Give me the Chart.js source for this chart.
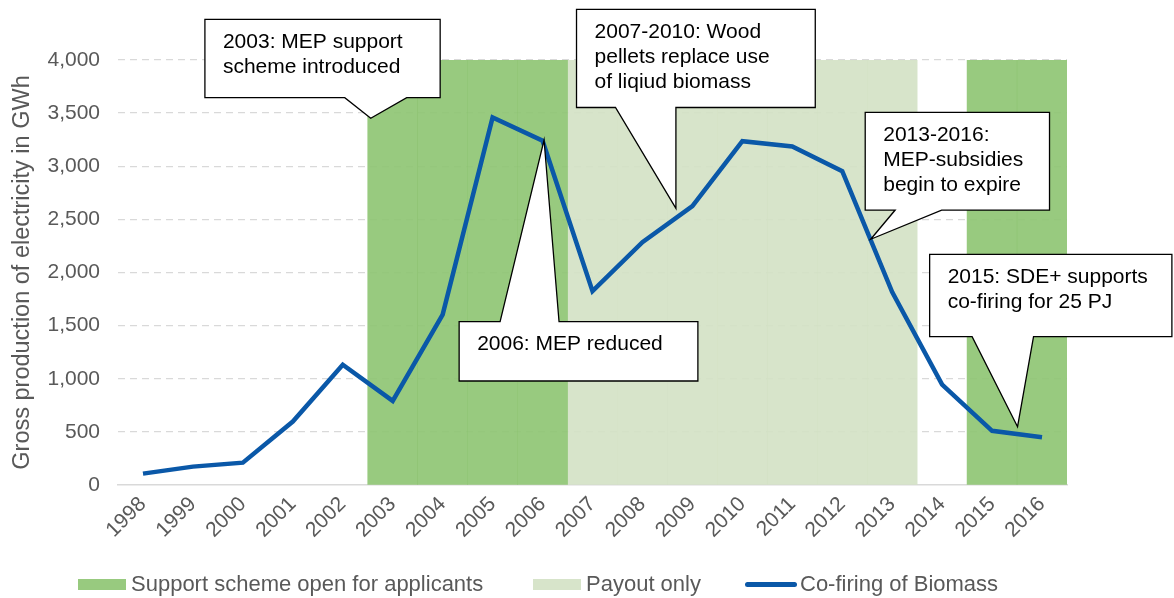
<!DOCTYPE html>
<html lang="en">
<head>
<meta charset="UTF-8">
<title>Co-firing of biomass</title>
<script src="https://cdn.jsdelivr.net/npm/chart.js"></script>
<style>
    body { margin: 0; background: #fff; font-family: 'Liberation Sans', Arial, sans-serif; }
    .wrap { position: relative; width: 1174px; height: 598px; }
    .legend { position: absolute; top: 570px; left: 0; width: 1174px; height: 28px; color: #595959; font-size: 22px; }
    .legend span { position: absolute; }
    .sw { height: 11px; top: 9px; }
    .ln { height: 5px; top: 12px; border-radius: 3px; }
    .lt { top: 0; line-height: 28px; white-space: nowrap; }
</style>
</head>
<body>
<div class="wrap">
    <canvas id="chart" width="1174" height="598"></canvas>
    <div class="legend">
        <span class="sw" style="left:78px; width:48px; background:#98CA7F;"></span>
        <span class="lt" style="left:131px;">Support scheme open for applicants</span>
        <span class="sw" style="left:533px; width:48px; background:#D7E4CA;"></span>
        <span class="lt" style="left:586px;">Payout only</span>
        <span class="ln" style="left:745px; width:52px; background:#0A58A8;"></span>
        <span class="lt" style="left:800px;">Co-firing of Biomass</span>
    </div>
</div>
<script>
    const years = ['1998', '1999', '2000', '2001', '2002', '2003', '2004', '2005', '2006', '2007',
                   '2008', '2009', '2010', '2011', '2012', '2013', '2014', '2015', '2016'];
    const cofiring = [107, 173, 210, 597, 1132, 792, 1604, 3460, 3240, 1825,
                      2285, 2625, 3236, 3186, 2953, 1815, 945, 510, 450];
    const supportOpen = [null, null, null, null, null, 4000, 4000, 4000, 4000, null,
                         null, null, null, null, null, null, null, 4000, 4000];
    const payoutOnly = [null, null, null, null, null, null, null, null, null, 4000,
                        4000, 4000, 4000, 4000, 4000, 4000, null, null, null];
    const yMin = 0, yMax = 4000, yStep = 500;

    // callouts: box and pointer in data space (x = category index, y = GWh)
    const callouts = [
        { lines: ['2003: MEP support', 'scheme introduced'], box: [1.24, 4383, 5.95, 3645], side: 'bottom', base: [4.04, 5.28], tip: [4.56, 3451] },
        { lines: ['2007-2010: Wood', 'pellets replace use', 'of liqiud biomass'], box: [8.68, 4477, 13.46, 3553], side: 'bottom', base: [9.46, 10.67], tip: [10.67, 2604] },
        { lines: ['2006: MEP reduced'], box: [6.33, 1537, 11.11, 979], side: 'top', base: [7.15, 8.33], tip: [8.03, 3247] },
        { lines: ['2013-2016:', 'MEP-subsidies', 'begin to expire'], box: [14.46, 3508, 18.15, 2588], side: 'bottom', base: [15.06, 15.99], tip: [14.57, 2313] },
        { lines: ['2015: SDE+ supports', 'co-firing for 25 PJ'], box: [15.75, 2171, 20.6, 1396], side: 'bottom', base: [16.6, 17.83], tip: [17.51, 549] }
    ];

    const calloutPlugin = {
        id: 'callouts',
        afterDatasetsDraw(chart) {
            const { ctx, scales: { x, y } } = chart;
            ctx.save();
            ctx.lineWidth = 1.3;
            ctx.strokeStyle = '#000';
            ctx.fillStyle = '#fff';
            callouts.forEach(c => {
                const x0 = x.getPixelForValue(c.box[0]), y0 = y.getPixelForValue(c.box[1]);
                const x1 = x.getPixelForValue(c.box[2]), y1 = y.getPixelForValue(c.box[3]);
                const b0 = x.getPixelForValue(c.base[0]), b1 = x.getPixelForValue(c.base[1]);
                const tx = x.getPixelForValue(c.tip[0]), ty = y.getPixelForValue(c.tip[1]);
                ctx.beginPath();
                ctx.moveTo(x0, y0);
                if (c.side === 'top') {
                    ctx.lineTo(b0, y0); ctx.lineTo(tx, ty); ctx.lineTo(b1, y0);
                }
                ctx.lineTo(x1, y0);
                ctx.lineTo(x1, y1);
                if (c.side === 'bottom') {
                    ctx.lineTo(b1, y1); ctx.lineTo(tx, ty); ctx.lineTo(b0, y1);
                }
                ctx.lineTo(x0, y1);
                ctx.closePath();
                ctx.fill();
                ctx.stroke();

                ctx.fillStyle = '#000';
                ctx.font = '21px "Liberation Sans", Arial, sans-serif';
                ctx.textBaseline = 'middle';
                c.lines.forEach((t, i) => ctx.fillText(t, x0 + 18, y0 + 23 + i * 25));
                ctx.fillStyle = '#fff';
            });
            ctx.restore();
        }
    };

    new Chart(document.getElementById('chart'), {
        data: {
            labels: years,
            datasets: [
                { type: 'line', label: 'Co-firing of Biomass', data: cofiring, borderColor: '#0A58A8', borderWidth: 4.5,
                  pointRadius: 0, tension: 0, order: 0, borderJoinStyle: 'miter' },
                { type: 'bar', label: 'Support scheme open for applicants', data: supportOpen, backgroundColor: 'rgba(141,196,113,0.9)',
                  barPercentage: 1, categoryPercentage: 1, grouped: false, order: 1 },
                { type: 'bar', label: 'Payout only', data: payoutOnly, backgroundColor: 'rgba(211,225,196,0.9)',
                  barPercentage: 1, categoryPercentage: 1, grouped: false, order: 1 }
            ]
        },
        options: {
            responsive: false,
            animation: false,
            layout: { padding: { top: 60, right: 107, bottom: 0, left: 8 } },
            plugins: { legend: { display: false }, tooltip: { enabled: false } },
            scales: {
                x: {
                    offset: true,
                    grid: { display: false, drawTicks: false },
                    border: { display: true, color: '#D9D9D9', width: 1.5 },
                    ticks: { color: '#595959', font: { family: 'Liberation Sans', size: 21 }, maxRotation: 45, minRotation: 45, padding: 7 },
                    afterFit(s) { s.height = 113; }
                },
                y: {
                    min: yMin, max: yMax,
                    grid: { color: c => c.tick.value === 0 ? 'rgba(0,0,0,0)' : '#D9D9D9', lineWidth: 1.3, drawTicks: false },
                    border: { display: false, dash: [7, 5] },
                    ticks: { stepSize: yStep, color: '#595959', font: { family: 'Liberation Sans', size: 21 }, padding: 18,
                             callback: v => v.toLocaleString('en-US') },
                    title: { display: true, text: 'Gross production of electricity in GWh', color: '#595959',
                             font: { family: 'Liberation Sans', size: 23.5 }, padding: { top: 0, bottom: 4 } },
                    afterFit(s) { s.width = 110; }
                }
            }
        },
        plugins: [calloutPlugin]
    });
</script>
</body>
</html>
